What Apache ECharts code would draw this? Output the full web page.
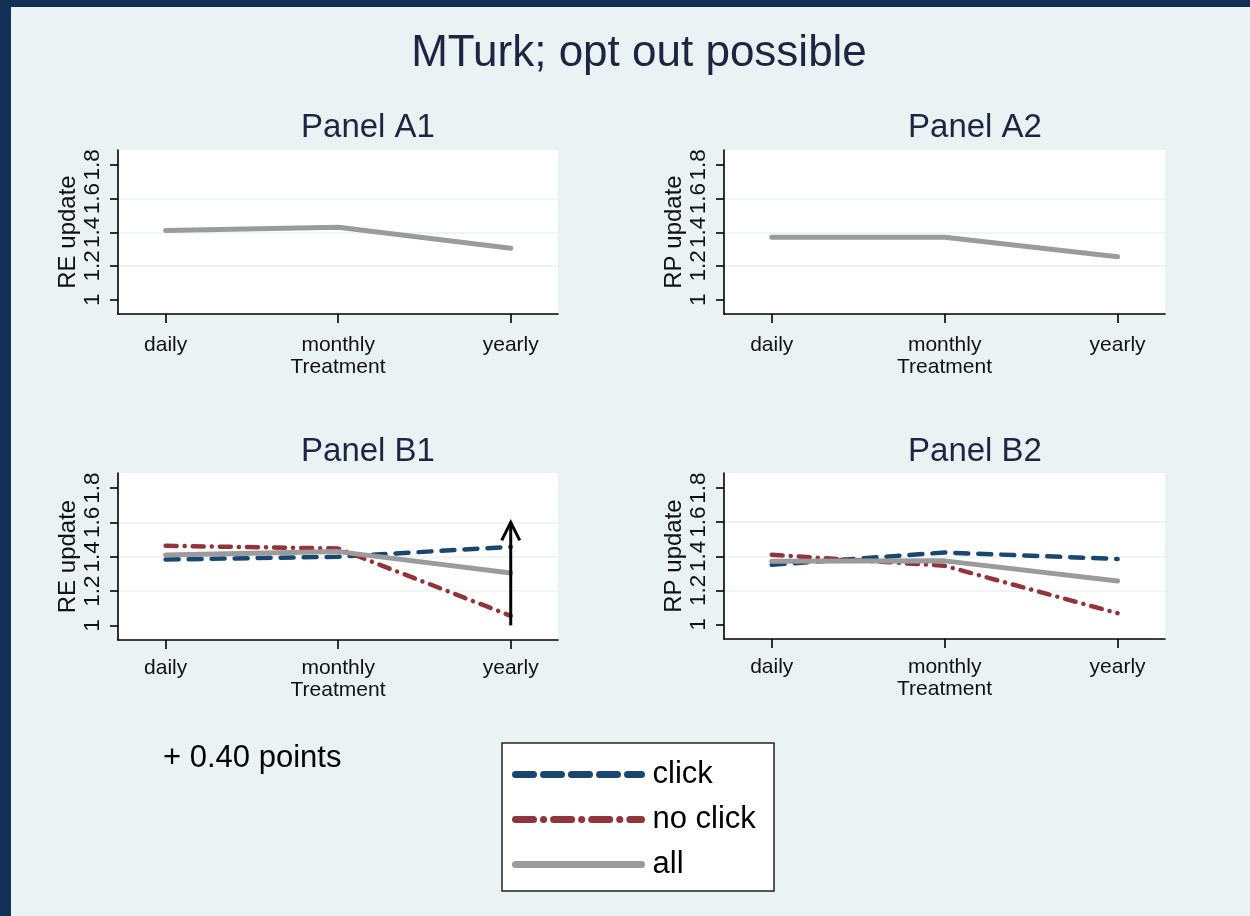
<!DOCTYPE html>
<html><head><meta charset="utf-8">
<script src="https://cdn.jsdelivr.net/npm/echarts@6/dist/echarts.min.js"></script>
<style>html,body{margin:0;padding:0;background:#eaf2f3}#c{width:1250px;height:916px}</style>
</head><body><div id="c"></div><script>
// ---- data ----
const xCategories = ['daily', 'monthly', 'yearly'];
const xPositions = [0, 1, 2];
const yTicks = [1, 1.2, 1.4, 1.6, 1.8];
const a1All = [1.41, 1.43, 1.305];
const a2All = [1.37, 1.37, 1.255];
const b1Click = [1.384, 1.40, 1.458];
const b1NoClick = [1.464, 1.448, 1.056];
const b1All = [1.41, 1.43, 1.305];
const b2Click = [1.35, 1.422, 1.384];
const b2NoClick = [1.409, 1.344, 1.066];
const b2All = [1.37, 1.373, 1.255];
const arrowB1 = [2, 1.0, 1.6]; // x position, from, to
const panelTitles = ['Panel A1', 'Panel A2', 'Panel B1', 'Panel B2'];
const yNames = ['RE update', 'RP update', 'RE update', 'RP update'];
const legendNames = ['click', 'no click', 'all'];

// ---- styling ----
const FONT = "'Liberation Sans', Arial, sans-serif";
const BLUE = '#1a476f', RED = '#90353b', GRAY = '#9b9b9b', TXT = '#1c2541';
const grids = [
  {left: 118, top: 150, width: 440, height: 164},
  {left: 724, top: 150, width: 441, height: 164},
  {left: 118, top: 473, width: 440, height: 167},
  {left: 724, top: 473, width: 441, height: 166}
];
const labelMargins = [21, 21, 18, 18];
const nameGaps = [42, 42, 39, 39];

function pts(vals) { return xPositions.map((x, i) => [x, vals[i]]); }

const xAxes = grids.map((g, i) => ({
  type: 'value', gridIndex: i, min: -0.276, max: 2.274,
  axisLine: {show: true, onZero: false, lineStyle: {color: '#000', width: 1.6}},
  axisTick: {show: true, length: 9, customValues: xPositions, lineStyle: {color: '#000', width: 1.6}},
  axisLabel: {customValues: xPositions, formatter: v => xCategories[Math.round(v)],
    fontSize: 21, fontFamily: FONT, color: '#111', margin: labelMargins[i]},
  splitLine: {show: false},
  name: 'Treatment', nameLocation: 'middle', nameGap: nameGaps[i],
  nameTextStyle: {fontSize: 21, fontFamily: FONT, color: '#111'}
}));
const yAxes = grids.map((g, i) => ({
  type: 'value', gridIndex: i, min: 0.915, max: 1.888,
  axisLine: {show: true, onZero: false, lineStyle: {color: '#000', width: 1.6}},
  axisTick: {show: true, length: 8, customValues: yTicks, lineStyle: {color: '#000', width: 1.6}},
  axisLabel: {customValues: yTicks, rotate: 90, fontSize: 22.5, fontFamily: FONT, color: '#111', margin: 14},
  splitLine: {show: true, showMinLine: false, showMaxLine: false, lineStyle: {color: '#eaf2f3', width: 1.6}},
  name: yNames[i], nameLocation: 'middle', nameGap: 38,
  nameTextStyle: {fontSize: 24, fontFamily: FONT, color: '#111'}
}));

function lineSeries(name, vals, idx, color, type, width) {
  return {
    name: name, type: 'line', xAxisIndex: idx, yAxisIndex: idx, data: pts(vals),
    symbol: 'none', smooth: false, silent: true,
    lineStyle: {color: color, width: width, type: type, cap: 'round'},
    itemStyle: {color: color}
  };
}
const blueDash = [13, 10];
const redDash = [11, 8, 0.1, 8];

const series = [
  lineSeries('all', a1All, 0, GRAY, 'solid', 5),
  lineSeries('all', a2All, 1, GRAY, 'solid', 5),
  lineSeries('click', b1Click, 2, BLUE, blueDash, 4.5),
  lineSeries('no click', b1NoClick, 2, RED, redDash, 4.5),
  lineSeries('all', b1All, 2, GRAY, 'solid', 5),
  lineSeries('click', b2Click, 3, BLUE, blueDash, 4.5),
  lineSeries('no click', b2NoClick, 3, RED, redDash, 4.5),
  lineSeries('all', b2All, 3, GRAY, 'solid', 5),
  {
    type: 'custom', xAxisIndex: 2, yAxisIndex: 2, data: [arrowB1], silent: true, z: 5,
    renderItem: function (params, api) {
      const p0 = api.coord([api.value(0), api.value(1)]);
      const p1 = api.coord([api.value(0), api.value(2)]);
      return {type: 'group', children: [
        {type: 'line', shape: {x1: p0[0], y1: p0[1], x2: p1[0], y2: p1[1] + 1}, style: {stroke: '#000', lineWidth: 3}},
        {type: 'polyline', shape: {points: [[p1[0] - 9, p1[1] + 18], [p1[0], p1[1]], [p1[0] + 9, p1[1] + 18]]},
          style: {stroke: '#000', lineWidth: 3, fill: null}}
      ]};
    }
  }
];

const titleCenters = [[368, 128], [975, 128], [368, 452], [975, 452]];
const graphics = [
  {type: 'rect', shape: {x: 0, y: 0, width: 1250, height: 7}, style: {fill: '#133057'}, silent: true},
  {type: 'rect', shape: {x: 0, y: 0, width: 11, height: 916}, style: {fill: '#133057'}, silent: true},
  {type: 'text', x: 639, y: 54, style: {text: 'MTurk; opt out possible', font: '44px ' + FONT, fill: TXT, textAlign: 'center', textVerticalAlign: 'middle'}},
  {type: 'rect', shape: {x: 502, y: 743, width: 272, height: 148}, style: {fill: '#fff', stroke: '#222', lineWidth: 1.5}, z: -1},
  {type: 'text', x: 163, y: 758, style: {text: '+ 0.40 points', font: '31px ' + FONT, fill: '#000', textAlign: 'left', textVerticalAlign: 'middle'}}
];
panelTitles.forEach((t, i) => graphics.push({type: 'text', x: titleCenters[i][0], y: titleCenters[i][1],
  style: {text: t, font: '33px ' + FONT, fill: TXT, textAlign: 'center', textVerticalAlign: 'middle'}}));

const chart = echarts.init(document.getElementById('c'), null, {renderer: 'canvas'});
chart.setOption({
  backgroundColor: '#eaf2f3',
  animation: false,
  grid: grids.map(g => Object.assign({show: true, backgroundColor: '#fff', borderWidth: 0}, g)),
  xAxis: xAxes,
  yAxis: yAxes,
  legend: {
    orient: 'vertical', left: 512, top: 759, padding: 0, itemGap: 14,
    itemWidth: 126, itemHeight: 14, selectedMode: false,
    textStyle: {fontSize: 31, fontFamily: FONT, color: '#000', padding: [0, 0, 0, 6]},
    itemStyle: {opacity: 0},
    data: [
      {name: legendNames[0], itemStyle: {opacity: 0}, lineStyle: {width: 7, type: [18, 10], cap: 'round', color: BLUE}},
      {name: legendNames[1], itemStyle: {opacity: 0}, lineStyle: {width: 7, type: [18, 10, 0.1, 10], cap: 'round', color: RED}},
      {name: legendNames[2], itemStyle: {opacity: 0}, lineStyle: {width: 7, type: 'solid', cap: 'round', color: GRAY}}
    ]
  },
  graphic: graphics,
  series: series
});
</script></body></html>
